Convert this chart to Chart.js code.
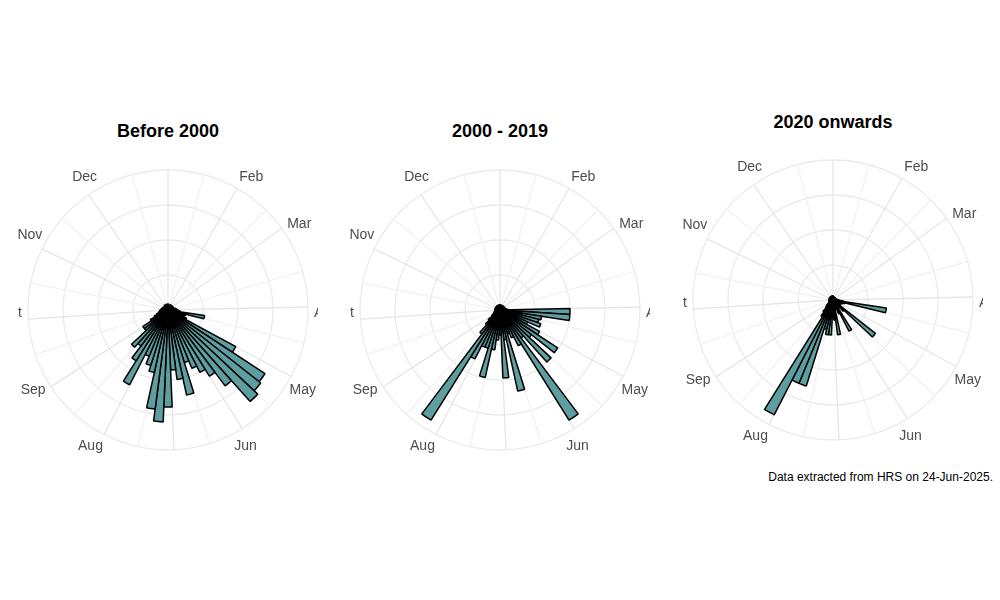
<!DOCTYPE html>
<html><head><meta charset="utf-8">
<script src="https://cdn.jsdelivr.net/npm/chart.js@4"></script>
<style>
body{margin:0;width:1000px;height:600px;background:#fff;font-family:Arial,"Liberation Sans",sans-serif;position:relative;overflow:hidden}
.c{position:absolute;width:300px;height:300px}
.t{position:absolute;font-weight:bold;font-size:18px;color:#000;text-align:center;width:300px}
.note{position:absolute;right:7px;top:470px;font-size:12px;color:#000}
</style></head><body>
<div class="t" style="left:18px;top:121px">Before 2000</div>
<div class="t" style="left:350px;top:121px">2000 - 2019</div>
<div class="t" style="left:683px;top:112px">2020 onwards</div>
<div class="c" style="left:18px;top:160px"><canvas id="c1"></canvas></div>
<div class="c" style="left:350px;top:160px"><canvas id="c2"></canvas></div>
<div class="c" style="left:683px;top:150px"><canvas id="c3"></canvas></div>
<div class="note">Data extracted from HRS on 24-Jun-2025.</div>
<script>
// 73 five-day bins through the year
const binLabels = Array.from({length:73},(_,i)=>'Day '+(i*5+1));
const monthNames = ['Jan','Feb','Mar','Apr','May','Jun','Jul','Aug','Sep','Oct','Nov','Dec'];
const monthBins  = [0,6,11,18,24,30,36,42,48,54,60,66];
const before2000 = [6,5,5,4,5,6,5,4,5,6,5,5,6,5,6,7,8,9,10,12,37,18,15,20,77,116,118,123,95,78,70,63,55,87,70,60,97,112,100,64,58,50,84,60,45,50,30,30,20,15,12,10,9,8,8,7,7,6,6,6,5,5,5,5,5,6,5,5,6,5,5,6,5];
const y2000to2019 = [5,5,5,4,5,5,5,4,5,5,5,5,5,5,5,6,6,8,70,70,42,40,43,30,45,69,40,70,35,130,40,30,25,83,30,68,25,30,40,69,40,40,55,130,30,20,15,10,8,7,6,6,5,5,5,5,5,5,5,5,5,5,5,5,5,5,5,5,5,5,5,5,5];
const y2020on = [4,3,3,3,3,3,3,3,3,3,3,3,3,3,3,3,4,5,6,10,54,12,10,8,8,9,54,15,10,9,35,15,10,9,35,20,15,35,35,30,90,90,129,20,15,10,8,6,5,4,4,4,4,4,4,4,4,4,4,4,4,4,4,4,4,4,4,4,4,4,4,4,4];

const monthLabelsPlugin = {
  id:'monthLabels',
  afterDraw(chart){
    const s = chart.scales.r, ctx = chart.ctx;
    ctx.save();
    ctx.font = '14px Arial, "Liberation Sans", sans-serif';
    ctx.fillStyle = '#4d4d4d';
    ctx.textAlign='center'; ctx.textBaseline='middle';
    for(let m=1;m<12;m++){
      const p = s.getPointPosition(monthBins[m]+0.5, s.drawingArea+17);
      ctx.fillText(monthNames[m], p.x, p.y);
    }
    ctx.restore();
  }
};

function make(id, data){
  new Chart(document.getElementById(id), {
    type:'polarArea',
    data:{labels:binLabels, datasets:[{data, backgroundColor:'#5f9ea0', borderColor:'#000', borderWidth:1.5}]},
    options:{
      responsive:true, maintainAspectRatio:false, animation:false,
      layout:{padding:10},
      plugins:{legend:{display:false}, tooltip:{enabled:false}},
      scales:{r:{
        min:0, max:140,
        ticks:{display:false, stepSize:35},
        grid:{color:'#ebebeb', lineWidth:1.3},
        pointLabels:{display:false},
        angleLines:{display:true, lineWidth:1.3, color:(ctx)=>{
          const i = ctx.index;
          if (monthBins.includes(i)) return '#e6e6e6';
          for (let m=0;m<12;m++){const a=monthBins[m], b=m<11?monthBins[m+1]:73; if(i===Math.round((a+b)/2)) return '#f2f2f2';}
          return 'rgba(0,0,0,0)';
        }}
      }}
    },
    plugins:[monthLabelsPlugin]
  });
}
make('c1', before2000);
make('c2', y2000to2019);
make('c3', y2020on);
</script>
</body></html>
